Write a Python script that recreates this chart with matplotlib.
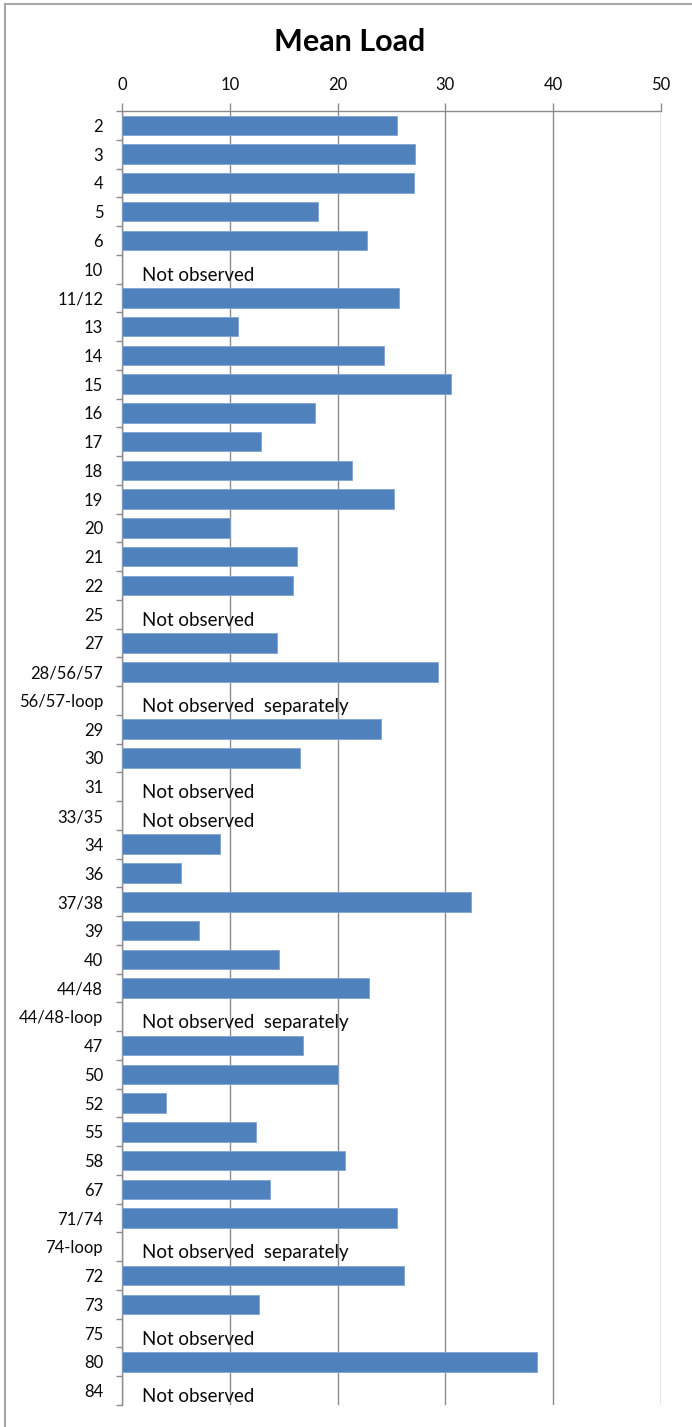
import numpy as np
import matplotlib
matplotlib.use("Agg")
import matplotlib.pyplot as plt
from matplotlib.lines import Line2D

categories = ["2", "3", "4", "5", "6", "10", "11/12", "13", "14", "15", "16", "17",
              "18", "19", "20", "21", "22", "25", "27", "28/56/57", "56/57-loop",
              "29", "30", "31", "33/35", "34", "36", "37/38", "39", "40", "44/48",
              "44/48-loop", "47", "50", "52", "55", "58", "67", "71/74", "74-loop",
              "72", "73", "75", "80", "84"]
values = [25.5, 27.2, 27.1, 18.2, 22.7, None, 25.7, 10.8, 24.3, 30.5, 17.9, 12.9,
          21.3, 25.2, 10.0, 16.2, 15.9, None, 14.4, 29.3, None,
          24.0, 16.5, None, None, 9.1, 5.5, 32.4, 7.1, 14.6, 22.9,
          None, 16.8, 20.0, 4.1, 12.4, 20.7, 13.7, 25.5, None,
          26.2, 12.7, None, 38.5, None]
notes = {"10": "Not observed", "25": "Not observed",
         "56/57-loop": "Not observed  separately", "31": "Not observed",
         "33/35": "Not observed", "44/48-loop": "Not observed  separately",
         "74-loop": "Not observed  separately", "75": "Not observed",
         "84": "Not observed"}
xticks = [0, 10, 20, 30, 40, 50]
title = "Mean Load"

FONT = ["Lato", "DejaVu Sans"]
plt.rcParams["font.family"] = FONT

W, H = 692, 1427
fig = plt.figure(figsize=(W / 100, H / 100), dpi=100)
x0, x1, ytop, ybot = 122, 661, 111, 1405
ax = fig.add_axes([x0 / W, 1 - ybot / H, (x1 - x0) / W, (ybot - ytop) / H])

n = len(categories)
ypos = np.arange(n)
vals = np.array([np.nan if v is None else v for v in values], dtype=float)
mask = ~np.isnan(vals)
ax.barh(ypos[mask], vals[mask], height=0.68, color="#4F81BD",
        edgecolor="#7FA3D1", linewidth=0.6, zorder=3)

ax.set_xlim(0, 50)
ax.set_ylim(n - 0.5, -0.5)

grid_c = "#8C8C8C"
ax.xaxis.tick_top()
ax.set_xticks(xticks)
ax.set_xticklabels([str(t) for t in xticks])
ax.grid(axis="x", color=grid_c, linewidth=1.0, zorder=0)
ax.set_axisbelow(True)
ax.tick_params(axis="x", which="major", length=5.8, width=1.0, color=grid_c,
               pad=7.0, labelsize=12, labelcolor="#0A0A0A")

ax.set_yticks(ypos)
ax.set_yticklabels(categories)
ax.set_yticks(np.arange(-0.5, n, 1.0), minor=True)
ax.tick_params(axis="y", which="major", length=0, pad=13.5, labelsize=12,
               labelcolor="#0A0A0A")
ax.tick_params(axis="y", which="minor", length=4.3, width=1.0, color=grid_c)

for s in ["right", "bottom"]:
    ax.spines[s].set_visible(False)
for s in ["left", "top"]:
    ax.spines[s].set_color(grid_c)
    ax.spines[s].set_linewidth(1.0)

for i, c in enumerate(categories):
    if c in notes:
        ax.text(1.9, i + 0.4, notes[c], ha="left", va="baseline",
                fontsize=13.5, color="#0A0A0A", zorder=4)

fig.text(349.5 / W, 1 - 42 / H, title, ha="center", va="center",
         fontsize=22, fontweight="bold", color="#000000")

border_c = "#A6A6A6"
fig.add_artist(Line2D([5 / W, 5 / W], [0, 1 - 4 / H], transform=fig.transFigure,
                      color=border_c, linewidth=1.5))
fig.add_artist(Line2D([5 / W, 1], [1 - 4 / H, 1 - 4 / H], transform=fig.transFigure,
                      color=border_c, linewidth=1.5))

fig.savefig("out.png", dpi=100)
